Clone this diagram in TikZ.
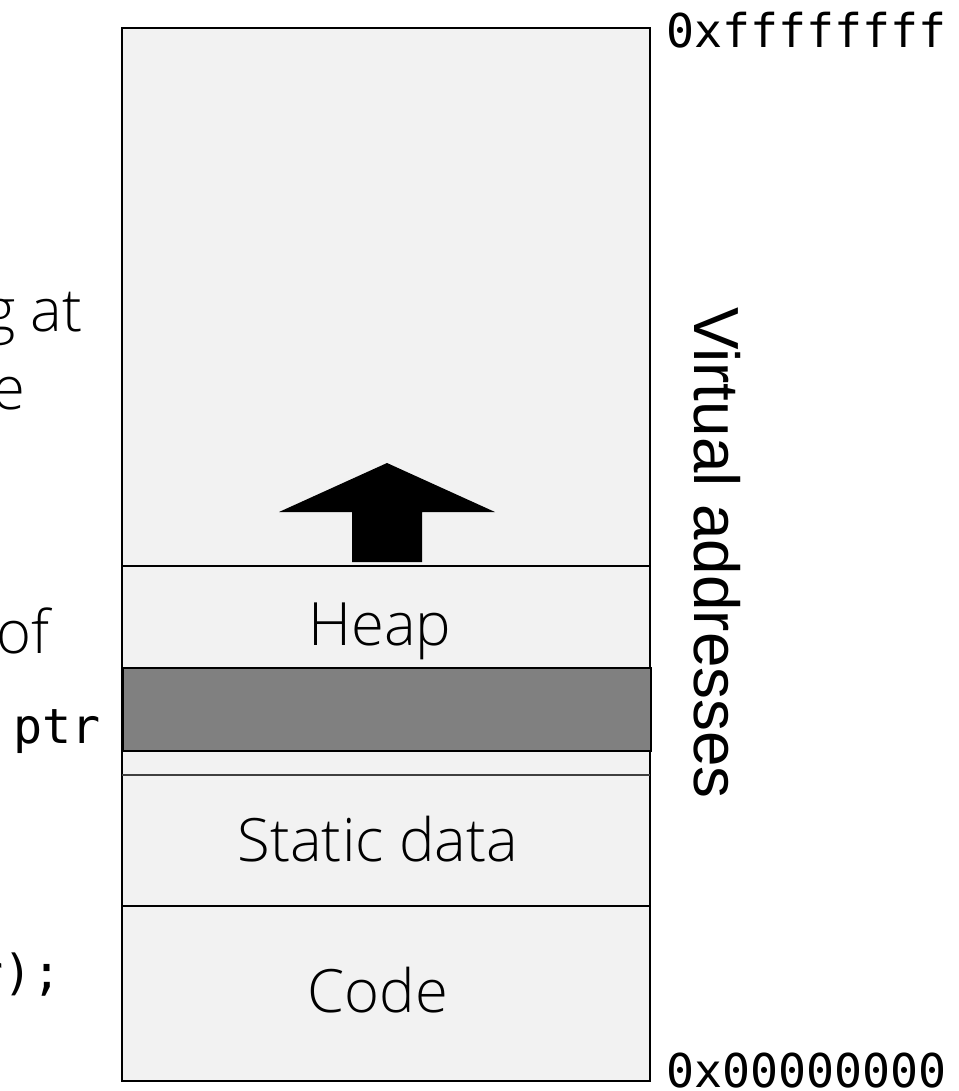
\documentclass[tikz,border=0pt]{standalone}
\usepackage{fontspec}
\newfontfamily\lightf{Open Sans Light}
\newfontfamily\monof{DejaVu Sans Mono}
\newfontfamily\arialf{Liberation Sans}
\definecolor{colfill}{HTML}{F2F2F2}
\definecolor{blockfill}{HTML}{808080}
\begin{document}
\begin{tikzpicture}[x=0.02cm,y=-0.02cm,
  seglabel/.style={font=\lightf\fontsize{34}{40}\selectfont, inner sep=0pt, anchor=base},
  sidetext/.style={font=\lightf\fontsize{34}{40}\selectfont, inner sep=0pt, anchor=base east},
  codetext/.style={font=\monof\fontsize{27.5}{32}\selectfont, inner sep=0pt, anchor=base east},
  addrlabel/.style={font=\monof\fontsize{26.5}{32}\selectfont, inner sep=0pt, anchor=west},
  segline/.style={line width=1.1pt, draw=black}]
\useasboundingbox (0,0) rectangle (959,1091);
\clip (0,0) rectangle (959,1091);
% column
\filldraw[fill=colfill, segline] (122,28) rectangle (650,1081);
\draw[segline] (122,566) -- (650,566);
\draw[line width=0.9pt, draw=black!75] (122,775) -- (650,775);
\draw[segline] (122,906) -- (650,906);
\filldraw[fill=blockfill, segline] (123,668) rectangle (651,751);
% growth arrow
\fill[black] (387,463) -- (495,512) -- (422,512) -- (422,562) -- (352,562) -- (352,512) -- (279,512) -- cycle;
% labels
\node[seglabel] (heap) at (380,645) {Heap};
\node[seglabel] (static) at (378,861) {Static data};
\node[seglabel] (code) at (378,1012) {Code};
\node[addrlabel] (top) at (666,30) {0xffffffff};
\node[addrlabel] (bottom) at (666,1071) {0x00000000};
\node[font=\arialf\fontsize{36.3}{40}\selectfont, inner sep=0pt, rotate=-90] (va) at (717,553) {Virtual addresses};
% clipped text at left edge
\node[sidetext] (t1) at (83,331) {g at};
\node[sidetext] (t2) at (26,409) {e};
\node[sidetext] (t3) at (50,653) {of};
\node[codetext] (t4) at (101,743) {ptr};
\node[codetext] (t5) at (62,989) {r);};
\end{tikzpicture}
\end{document}
